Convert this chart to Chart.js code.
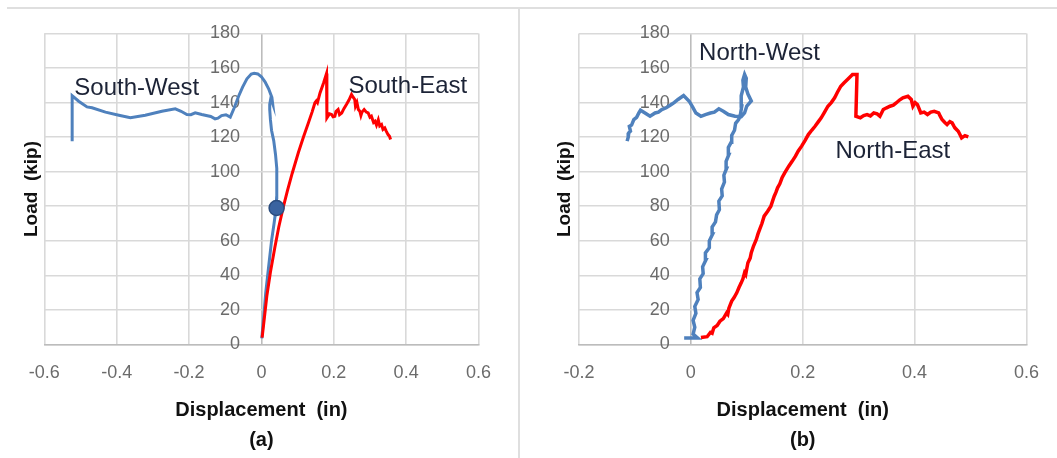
<!DOCTYPE html>
<html>
<head>
<meta charset="utf-8">
<script src="https://cdn.jsdelivr.net/npm/chart.js@4/dist/chart.umd.min.js"></script>
<style>
  html, body { margin: 0; padding: 0; background: #fff; }
  #wrap { position: relative; width: 1057px; height: 458px; overflow: hidden; background: #fff; }
  .rule-top { position: absolute; left: 7px; top: 7px; width: 1050px; height: 2px; background: #dfdfdf; }
  .rule-mid { position: absolute; left: 518px; top: 7px; width: 2px; height: 451px; background: #dfdfdf; }
  canvas { position: absolute; top: 0; }
  #panelA { left: 0; }
  #panelB { left: 520px; }
</style>
</head>
<body>
<div id="wrap">
  <div class="rule-top"></div>
  <div class="rule-mid"></div>
  <canvas id="panelA" width="518" height="458"></canvas>
  <canvas id="panelB" width="537" height="458"></canvas>
</div>
<script>
// Load–displacement records, [displacement (in), load (kip)]
const southWest = [
  [0.001, 3.5], [0.006, 15], [0.012, 30], [0.020, 45], [0.028, 60], [0.035, 70],
  [0.040, 78], [0.042, 85], [0.043, 95], [0.042, 102], [0.039, 110], [0.034, 118],
  [0.028, 124], [0.025, 130], [0.023, 136], [0.023, 139], [0.026, 142.5], [0.031, 139.5],
  [0.029, 143], [0.020, 148], [0.010, 152], [0.000, 155], [-0.010, 156.6], [-0.020, 157],
  [-0.028, 156.5], [-0.040, 153.8], [-0.052, 149], [-0.063, 143.7], [-0.075, 137],
  [-0.086, 131.6], [-0.098, 133], [-0.110, 132.5], [-0.120, 131], [-0.128, 130.6],
  [-0.140, 132], [-0.165, 133.1], [-0.183, 134.1], [-0.195, 133], [-0.206, 133.1],
  [-0.222, 135], [-0.238, 136.4], [-0.275, 135], [-0.321, 132.7], [-0.362, 131.2],
  [-0.394, 132.7], [-0.431, 134.5], [-0.468, 137], [-0.482, 137.5], [-0.505, 140.8],
  [-0.523, 144], [-0.523, 117.7]
];
const southEast = [
  [0.002, 4], [0.008, 15], [0.015, 28], [0.025, 42], [0.037, 56], [0.048, 68],
  [0.061, 80], [0.072, 89], [0.085, 99], [0.102, 111], [0.116, 120], [0.130, 128.3],
  [0.140, 134.5], [0.148, 139.9], [0.152, 141], [0.155, 140], [0.162, 145.6],
  [0.172, 151.5], [0.180, 156.8], [0.181, 131.2], [0.188, 133.5], [0.194, 133.1],
  [0.198, 131.8], [0.203, 132.1], [0.206, 134.8], [0.212, 136], [0.216, 133],
  [0.222, 134], [0.228, 136.5], [0.235, 138.9], [0.242, 141.5], [0.249, 144.7],
  [0.254, 143], [0.258, 141.8], [0.260, 138], [0.264, 140], [0.268, 136], [0.272, 135],
  [0.275, 132.5], [0.278, 134.5], [0.284, 136], [0.290, 134.5], [0.295, 134],
  [0.300, 131.5], [0.304, 132.1], [0.310, 128.5], [0.314, 129.2], [0.318, 127],
  [0.323, 130], [0.327, 126.5], [0.332, 127.3], [0.336, 124.5], [0.341, 125.4],
  [0.345, 123.5], [0.350, 121.5], [0.354, 120.5], [0.357, 118.6]
];
const southWestMarker = [[0.042, 79]];

const northWest = [
  [-0.012, 3.8], [0.000, 3.8], [0.012, 3.8], [0.004, 6], [0.007, 10], [0.004, 14],
  [0.009, 18], [0.007, 22], [0.013, 26], [0.011, 30], [0.017, 33], [0.016, 38],
  [0.022, 41], [0.021, 45], [0.027, 49], [0.026, 53], [0.033, 56], [0.033, 60],
  [0.039, 64], [0.038, 68], [0.044, 71], [0.046, 75], [0.051, 78], [0.050, 83],
  [0.056, 86], [0.055, 90], [0.060, 94], [0.059, 98], [0.064, 102], [0.063, 106],
  [0.068, 110], [0.067, 114], [0.072, 117], [0.073, 121], [0.078, 124], [0.080, 128],
  [0.085, 130], [0.088, 132], [0.091, 138], [0.090, 144], [0.094, 149], [0.093, 153],
  [0.096, 156.3], [0.099, 154], [0.098, 149], [0.102, 145], [0.108, 141], [0.100, 138],
  [0.096, 134], [0.090, 131.8], [0.079, 132.1], [0.067, 133.1], [0.058, 135],
  [0.050, 136.4], [0.042, 134.5], [0.035, 134], [0.026, 133.1], [0.018, 132.1],
  [0.009, 134], [0.003, 137.5], [-0.003, 140.8], [-0.013, 144.1], [-0.023, 141.8],
  [-0.030, 140], [-0.035, 138.9], [-0.044, 137], [-0.052, 136], [-0.058, 134.5],
  [-0.064, 134], [-0.073, 132.1], [-0.082, 134], [-0.090, 135.6], [-0.093, 134],
  [-0.097, 131.5], [-0.102, 130.2], [-0.106, 127], [-0.110, 126.3], [-0.108, 123.5],
  [-0.111, 122.5], [-0.112, 120], [-0.114, 117.7]
];
const northEast = [
  [0.018, 4], [0.029, 4.5], [0.035, 7], [0.038, 6.5], [0.041, 9.7], [0.047, 11], [0.052, 13.5],
  [0.058, 15], [0.064, 18.3], [0.066, 17.5], [0.068, 21], [0.073, 25.1], [0.077, 27], [0.082, 29.9],
  [0.086, 33], [0.090, 35.7], [0.093, 38], [0.096, 41.5], [0.098, 40.5], [0.100, 44], [0.102, 47.3],
  [0.106, 50], [0.108, 53.1], [0.112, 57], [0.117, 60.8], [0.120, 64], [0.123, 66.6],
  [0.127, 70], [0.131, 74.3], [0.137, 77], [0.143, 80], [0.146, 83], [0.149, 85.8],
  [0.152, 88], [0.155, 90.7], [0.159, 93], [0.163, 96.5], [0.168, 99.5], [0.175, 103.2],
  [0.181, 106], [0.187, 109], [0.192, 112], [0.198, 114.8], [0.204, 118], [0.210, 121.5],
  [0.216, 124], [0.222, 126.3], [0.228, 129], [0.233, 131.2], [0.239, 134.5],
  [0.245, 137.9], [0.251, 140], [0.257, 142.8], [0.262, 146], [0.268, 149.5],
  [0.274, 151.5], [0.280, 153.4], [0.289, 156.3], [0.297, 156.3], [0.295, 132.1],
  [0.303, 131.2], [0.309, 132.5], [0.315, 133.1], [0.321, 132.3], [0.327, 134],
  [0.333, 133.5], [0.338, 132.1], [0.344, 136], [0.350, 137], [0.356, 137.9],
  [0.362, 138.5], [0.367, 139.8], [0.373, 141.5], [0.379, 142.8], [0.388, 143.7],
  [0.394, 141.8], [0.397, 137.9], [0.401, 140], [0.405, 138.9], [0.408, 136.5],
  [0.411, 134], [0.417, 134.5], [0.423, 133.1], [0.429, 134.5], [0.435, 135],
  [0.443, 134], [0.446, 132], [0.449, 130.2], [0.454, 128.5], [0.458, 127.3],
  [0.463, 129], [0.467, 128.3], [0.470, 126.5], [0.472, 125.4], [0.478, 123.4],
  [0.481, 121.5], [0.484, 119.6], [0.490, 120.9], [0.496, 120.2]
];

// Axis ticks
const loadTicks = [0, 20, 40, 60, 80, 100, 120, 140, 160, 180];
const dispTicksA = [-0.6, -0.4, -0.2, 0, 0.2, 0.4, 0.6];
const dispTicksB = [-0.2, 0, 0.2, 0.4, 0.6];

// Text
const xTitle = 'Displacement  (in)';
const yTitle = 'Load  (kip)';
const captionA = '(a)';
const captionB = '(b)';
const seriesNamesA = ['South-West', 'South-East'];
const seriesNamesB = ['North-West', 'North-East'];

const BLUE = '#4f81bd';
const RED = '#ff0000';
const GRID = '#d9d9d9';
const AXIS = '#bcbcbc';
const TICK_FONT = { family: "'Liberation Sans', Arial, sans-serif", size: 18 };
const TITLE_FONT = { family: "'Liberation Sans', Arial, sans-serif", size: 19, weight: 'bold', lineHeight: 1.2 };
const XTITLE_FONT = { family: "'Liberation Sans', Arial, sans-serif", size: 20, weight: 'bold', lineHeight: 1.48 };

const toPts = arr => arr.map(([x, y]) => ({ x, y }));

// Series names written beside their curves
const curveLabels = {
  id: 'curveLabels',
  afterDatasetsDraw(chart, args, opts) {
    const { ctx, scales: { x, y } } = chart;
    ctx.save();
    ctx.font = "24px 'Liberation Sans', Arial, sans-serif";
    ctx.fillStyle = '#1c2336';
    ctx.textAlign = 'left';
    ctx.textBaseline = 'alphabetic';
    for (const item of opts.items) {
      ctx.fillText(item.text, x.getPixelForValue(item.x), y.getPixelForValue(item.y));
    }
    ctx.restore();
  }
};

function buildPanel(id, p) {
  return new Chart(document.getElementById(id), {
    type: 'scatter',
    data: {
      datasets: p.datasets
    },
    options: {
      responsive: false,
      animation: false,
      devicePixelRatio: 1,
      layout: { padding: { top: 33.5, right: p.padRight, bottom: 0, left: p.padLeft } },
      plugins: {
        legend: { display: false },
        tooltip: { enabled: false },
        curveLabels: { items: p.labels }
      },
      scales: {
        x: {
          type: 'linear', position: 'bottom', min: p.xTicks[0], max: p.xTicks[p.xTicks.length - 1],
          afterBuildTicks: s => { s.ticks = p.xTicks.map(v => ({ value: v })); },
          afterFit: s => { s.height = 458 - 344.5; },
          ticks: { font: TICK_FONT, color: '#6b6b6b', padding: 18, maxRotation: 0, callback: v => String(v) },
          // the zero line doubles as the vertical value axis
          grid: { color: c => (c.tick && c.tick.value === 0 ? AXIS : GRID), lineWidth: 1.6, drawTicks: false },
          border: { color: AXIS, width: 1.6 },
          title: { display: true, text: [xTitle, p.caption], font: XTITLE_FONT, color: '#111', padding: { top: 0, bottom: 3 } }
        },
        y: {
          // labels sit just left of the zero line
          type: 'linear', axis: 'y', position: { x: p.labelAt }, min: 0, max: 180,
          afterBuildTicks: s => { s.ticks = loadTicks.map(v => ({ value: v })); },
          ticks: { font: TICK_FONT, color: '#6b6b6b', padding: 0 },
          grid: { color: GRID, lineWidth: 1.6, drawTicks: false },
          border: { display: false }
        },
        yTitle: {
          type: 'linear', axis: 'y', position: 'left', min: 0, max: 1,
          afterFit: s => { s.width = p.titleWidth; },
          ticks: { display: false },
          grid: { display: false, drawTicks: false },
          border: { display: false },
          title: { display: true, text: yTitle, font: TITLE_FONT, color: '#111', padding: { top: 0, bottom: 0 } }
        }
      }
    },
    plugins: [curveLabels]
  });
}

buildPanel('panelA', {
  xTicks: dispTicksA,
  caption: captionA,
  labelAt: -0.0589,
  padLeft: 20.3, titleWidth: 24, padRight: 39.5,
  datasets: [
    { data: toPts(southWestMarker), showLine: false, pointRadius: 7.5, pointBackgroundColor: '#3a63a0', pointBorderColor: '#2a4c7e', pointBorderWidth: 1.5 },
    { data: toPts(southEast), showLine: true, borderColor: RED, borderWidth: 3, pointRadius: 0, tension: 0 },
    { data: toPts(southWest), showLine: true, borderColor: BLUE, borderWidth: 3, pointRadius: 0, tension: 0 }
  ],
  labels: [
    { text: seriesNamesA[0], x: -0.517, y: 144.4 },
    { text: seriesNamesA[1], x: 0.2405, y: 145.6 }
  ]
});

buildPanel('panelB', {
  xTicks: dispTicksB,
  caption: captionB,
  labelAt: -0.0378,
  padLeft: 33.2, titleWidth: 25.8, padRight: 21,
  datasets: [
    { data: toPts(northEast), showLine: true, borderColor: RED, borderWidth: 3.5, pointRadius: 0, tension: 0 },
    { data: toPts(northWest), showLine: true, borderColor: BLUE, borderWidth: 3.5, pointRadius: 0, tension: 0 }
  ],
  labels: [
    { text: seriesNamesB[0], x: 0.0147, y: 164.7 },
    { text: seriesNamesB[1], x: 0.2585, y: 107.8 }
  ]
});
</script>
</body>
</html>
